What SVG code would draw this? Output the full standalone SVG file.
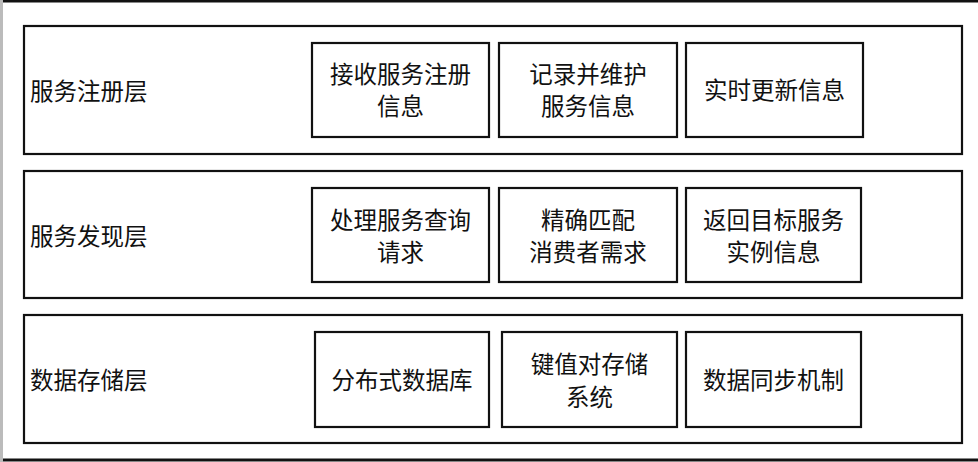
<svg xmlns="http://www.w3.org/2000/svg" width="978" height="462" viewBox="0 0 978 462">
<style>
.layer{fill:#fff;stroke:#111;stroke-width:2.2}
.box{fill:#fff;stroke:#111;stroke-width:2.2}
text{font-family:"Noto Sans CJK SC","Noto Sans",sans-serif;font-size:23.5px;fill:#111;dominant-baseline:central}
.c{text-anchor:middle}
</style>
<rect x="0" y="0" width="978" height="462" fill="#fff"/>
<line x1="0" y1="1" x2="978" y2="1" stroke="#111" stroke-width="3"/>
<line x1="0" y1="460" x2="978" y2="460" stroke="#111" stroke-width="3"/>
<line x1="1.5" y1="0" x2="1.5" y2="462" stroke="#bbb" stroke-width="3"/>
<g id="layer-register">
<rect class="layer" x="24" y="26" width="938" height="128"/>
<text x="30" y="90">服务注册层</text>
</g>
<g id="reg-1"><rect class="box" x="312" y="43" width="177" height="94"/><text class="c" x="400.5" y="72.5">接收服务注册</text><text class="c" x="400.5" y="105">信息</text></g>
<g id="reg-2"><rect class="box" x="499" y="43" width="178" height="94"/><text class="c" x="588" y="72.5">记录并维护</text><text class="c" x="588" y="105">服务信息</text></g>
<g id="reg-3"><rect class="box" x="686" y="43" width="177" height="94"/><text class="c" x="774.5" y="89">实时更新信息</text></g>
<g id="layer-discovery">
<rect class="layer" x="24" y="171" width="938" height="127"/>
<text x="30" y="235">服务发现层</text>
</g>
<g id="dis-1"><rect class="box" x="312" y="188" width="177" height="94"/><text class="c" x="400.5" y="219">处理服务查询</text><text class="c" x="400.5" y="251">请求</text></g>
<g id="dis-2"><rect class="box" x="499" y="188" width="178" height="94"/><text class="c" x="588" y="219">精确匹配</text><text class="c" x="588" y="251">消费者需求</text></g>
<g id="dis-3"><rect class="box" x="686" y="188" width="175" height="94"/><text class="c" x="773.5" y="219">返回目标服务</text><text class="c" x="773.5" y="251">实例信息</text></g>
<g id="layer-storage">
<rect class="layer" x="24" y="315" width="938" height="128"/>
<text x="30" y="379">数据存储层</text>
</g>
<g id="sto-1"><rect class="box" x="315" y="332" width="174" height="95"/><text class="c" x="402" y="379">分布式数据库</text></g>
<g id="sto-2"><rect class="box" x="502" y="332" width="175" height="95"/><text class="c" x="589.5" y="363">键值对存储</text><text class="c" x="589.5" y="396">系统</text></g>
<g id="sto-3"><rect class="box" x="686" y="332" width="175" height="95"/><text class="c" x="773.5" y="379">数据同步机制</text></g>
<g id="connectors"></g>
</svg>
